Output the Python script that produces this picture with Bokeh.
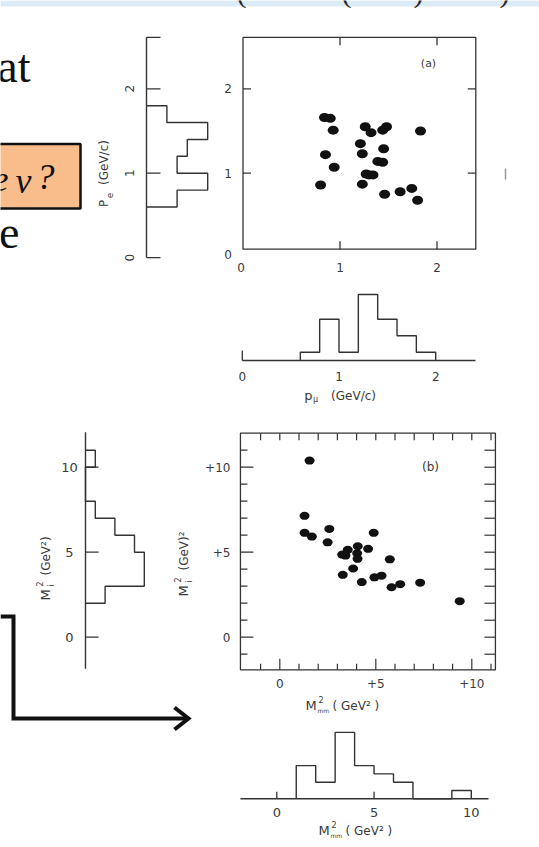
import math
from bokeh.plotting import figure
from bokeh.models import Range1d
from bokeh.core.properties import value
from bokeh.embed import file_html
from bokeh.resources import INLINE

W, H = 539, 847

# ---------------- data ----------------
# (a) e-mu events: muon momentum vs electron momentum (GeV/c)
p_mu = [0.84, 0.90, 0.93, 0.85, 0.94, 0.80, 1.26, 1.32, 1.44, 1.48, 1.21, 1.23,
        1.45, 1.39, 1.44, 1.27, 1.34, 1.23, 1.46, 1.62, 1.74, 1.80, 1.83, 1.30]
p_e = [1.66, 1.65, 1.51, 1.22, 1.07, 0.86, 1.55, 1.48, 1.51, 1.55, 1.35, 1.23,
       1.29, 1.14, 1.13, 0.99, 0.98, 0.87, 0.75, 0.78, 0.82, 0.68, 1.50, 0.98]
pe_edges = [0.6, 0.8, 1.0, 1.2, 1.4, 1.6, 1.8]
pe_counts = [3, 6, 3, 4, 6, 2]
pmu_edges = [0.6, 0.8, 1.0, 1.2, 1.4, 1.6, 1.8, 2.0]
pmu_counts = [1, 5, 1, 8, 5, 3, 1]
a_ticks = [0, 1, 2]
a_tick_labels = ["0", "1", "2"]

# (b) invariant mass squared vs missing mass squared (GeV^2)
mm2 = [1.55, 1.29, 1.29, 1.67, 2.58, 2.49, 4.89, 3.25, 3.54, 3.42, 4.06, 4.03,
       4.05, 4.60, 5.73, 3.82, 3.28, 4.27, 4.93, 5.30, 5.82, 6.27, 7.31, 9.37]
mi2 = [10.39, 7.14, 6.14, 5.92, 6.37, 5.58, 6.14, 4.86, 5.14, 4.80, 5.35, 4.94,
       4.61, 5.20, 4.58, 4.04, 3.67, 3.24, 3.52, 3.62, 2.94, 3.12, 3.21, 2.12]
mi2_edges = [2, 3, 4, 5, 6, 7, 8, 9, 10, 11]
mi2_counts = [2, 6, 6, 5, 3, 1, 0, 0, 1]
mm2_edges = [1, 2, 3, 4, 5, 6, 7, 8, 9, 10]
mm2_counts = [4, 2, 8, 4, 3, 2, 0, 0, 1]
b_ticks = [0, 5, 10]
b_minor = list(range(-1, 12))
b_scatter_labels = ["0", "+5", "+10"]
b_hist_labels = ["0", "5", "10"]

# ---------------- layout of the panels (pixels) ----------------
A_X0, A_XS = 242.5, 97.0      # p_mu = 0 position, px per GeV/c
A_Y0, A_YS = 257.1, 84.4      # p_e = 0 position, px per GeV/c
A_BOX = (0.0, 2.40, 0.10, 2.61)
PE_C0, PE_CS = 146.0, 10.2    # electron histogram: count axis
PMU_X0, PMU_XS = 241.8, 96.7  # muon histogram: momentum axis
PMU_C0, PMU_CS = 360.0, 8.25  # muon histogram: count axis
B_X0, B_XS = 279.3, 19.2
B_Y0, B_YS = 636.7, 17.0
B_BOX = (-2.05, 11.23, -1.92, 12.0)
MI_C0, MI_CS = 85.0, 9.8
MM_X0, MM_XS = 276.3, 19.45
MM_C0, MM_CS = 798.3, 8.3

INK = "#333333"
TXT = "#3a3a3a"
SANS = value("DejaVu Sans")
SERIF = value("Liberation Serif")


def xmap(px0, ppu):
    return Range1d(-px0 / ppu, (W - px0) / ppu)


def ymap(py0, ppu):
    return Range1d((py0 - H) / ppu, py0 / ppu)


p = figure(width=W, height=H, x_range=Range1d(0, W), y_range=Range1d(H, 0),
           x_axis_type=None, y_axis_type=None, output_backend="svg",
           toolbar_location=None, min_border=0)
p.outline_line_color = None
p.background_fill_color = "white"
p.border_fill_color = "white"

p.extra_x_ranges = {
    "ax": xmap(A_X0, A_XS), "pec": xmap(PE_C0, PE_CS), "pmux": xmap(PMU_X0, PMU_XS),
    "bx": xmap(B_X0, B_XS), "mic": xmap(MI_C0, MI_CS), "mmx": xmap(MM_X0, MM_XS),
}
p.extra_y_ranges = {
    "ay": ymap(A_Y0, A_YS), "pmuc": ymap(PMU_C0, PMU_CS),
    "by": ymap(B_Y0, B_YS), "mmc": ymap(MM_C0, MM_CS),
}


def steps_up(edges, counts):
    xs, ys = [edges[0]], [0]
    for i, c in enumerate(counts):
        xs += [edges[i], edges[i + 1]]
        ys += [c, c]
    xs.append(edges[-1])
    ys.append(0)
    return xs, ys


def label(x, y, t, size=12, align="center", angle=0.0, xr="default", yr="default",
          dx=0, dy=0, font=SANS, color=TXT, style="normal"):
    p.text(x=[x], y=[y], text=[t], x_range_name=xr, y_range_name=yr,
           text_font=font, text_font_size=f"{size}px", text_color=color,
           text_align=align, text_baseline="middle", angle=angle,
           x_offset=dx, y_offset=dy, text_font_style=style)


# ---------------- slide decorations ----------------
p.quad(left=0, right=W, top=0, bottom=6, fill_color="#dcebf8", line_color=None)
for px, ch in [(241, "("), (346, "("), (418, ")"), (504, ")")]:
    label(px, -9, ch, size=30, font=SERIF, color="#222222")

label(30, 66, "at", size=46, align="right", font=SERIF, color="#111111")
label(19, 232, "e", size=46, align="right", font=SERIF, color="#111111")

p.quad(left=-6, right=80, top=143.5, bottom=208, fill_color="#f9bd8c",
       line_color="#111111", line_width=2.5)
label(8, 178, "e", size=36, align="right", font=SERIF, color="#111111", style="italic")
label(23, 180, "ν", size=36, font=SERIF, color="#111111", style="italic")
label(45, 176, "?", size=36, font=SERIF, color="#111111", style="italic")

p.line(x=[0, 13, 13, 187], y=[616, 616, 718, 718], line_color="#111111",
       line_width=4, line_join="miter")
p.line(x=[174, 188, 174], y=[707, 718, 729], line_color="#111111", line_width=4,
       line_join="miter")
p.segment(x0=[505], y0=[168], x1=[505], y1=[179], line_color="#999999", line_width=1.5)

# ---------------- panel (a): scatter ----------------
l, r, b, t = A_BOX
p.quad(left=l, right=r, bottom=b, top=t, fill_color=None, line_color=INK,
       line_width=1.3, x_range_name="ax", y_range_name="ay")
tk_y = 8 / A_YS
tk_x = 8 / A_XS
tx = [v for v in a_ticks if v > 0]
p.segment(x0=tx + tx, y0=[t] * 2 + [b] * 2, x1=tx + tx, y1=[t - tk_y] * 2 + [b + tk_y] * 2,
          line_color=INK, line_width=1.3, x_range_name="ax", y_range_name="ay")
p.segment(x0=[l] * 2 + [r] * 2, y0=tx + tx, x1=[l + tk_x] * 2 + [r - tk_x] * 2, y1=tx + tx,
          line_color=INK, line_width=1.3, x_range_name="ax", y_range_name="ay")
p.ellipse(x=p_mu, y=p_e, width=11, height=9, width_units="screen", height_units="screen",
          fill_color="#111111", line_color=None, x_range_name="ax", y_range_name="ay")
for v, s in zip(a_ticks, a_tick_labels):
    label(v, b, s, xr="ax", yr="ay", dy=18, dx=-2 if v == 0 else 0)
    label(l, v, s, xr="ax", yr="ay", dx=-15, dy=-3 if v == 0 else 0)
label(428, 63, "(a)", size=11)

# electron momentum histogram (counts to the right)
ys_, xs_ = steps_up(pe_edges, pe_counts)
p.line(x=xs_, y=ys_, line_color=INK, line_width=1.4, x_range_name="pec", y_range_name="ay")
pe_top = 2.61
p.segment(x0=[0], y0=[0], x1=[0], y1=[pe_top], line_color=INK, line_width=1.4,
          x_range_name="pec", y_range_name="ay")
stub = 14 / PE_CS
stubs_y = a_ticks + [pe_top]
p.segment(x0=[0] * 4, y0=stubs_y, x1=[stub] * 4, y1=stubs_y, line_color=INK,
          line_width=1.3, x_range_name="pec", y_range_name="ay")
for v, s in zip(a_ticks, a_tick_labels):
    label(0, v, s, xr="pec", yr="ay", dx=-17, angle=math.pi / 2)
label(103, 203, "P", size=12, angle=math.pi / 2)
label(109, 195, "e", size=9, angle=math.pi / 2)
label(103, 162, "(GeV/c)", size=12, angle=math.pi / 2)

# muon momentum histogram (counts upward)
xs_, ys_ = steps_up(pmu_edges, pmu_counts)
p.line(x=xs_, y=ys_, line_color=INK, line_width=1.4, x_range_name="pmux", y_range_name="pmuc")
p.segment(x0=[0], y0=[0], x1=[(475 - PMU_X0) / PMU_XS], y1=[0], line_color=INK,
          line_width=1.4, x_range_name="pmux", y_range_name="pmuc")
p.segment(x0=[0], y0=[0], x1=[0], y1=[10 / PMU_CS], line_color=INK, line_width=1.3,
          x_range_name="pmux", y_range_name="pmuc")
for v, s in zip(a_ticks, a_tick_labels):
    label(v, 0, s, xr="pmux", yr="pmuc", dy=16)
label(308, 395, "p", size=13)
label(315, 399, "μ", size=8)
label(353, 395, "(GeV/c)", size=12)

# ---------------- panel (b): scatter ----------------
l, r, b, t = B_BOX
p.quad(left=l, right=r, bottom=b, top=t, fill_color=None, line_color=INK,
       line_width=1.3, x_range_name="bx", y_range_name="by")
for v in b_minor:
    big = v in b_ticks
    ly = (11 if big else 6) / B_YS
    lx = (13 if big else 7) / B_XS
    # ticks on top and bottom edges
    p.segment(x0=[v, v], y0=[t, b], x1=[v, v], y1=[t - 7 / B_YS, b + ly],
              line_color=INK, line_width=1.2, x_range_name="bx", y_range_name="by")
    # ticks on left and right edges
    p.segment(x0=[l, r], y0=[v, v], x1=[l + lx, r - 11 / B_XS], y1=[v, v],
              line_color=INK, line_width=1.2, x_range_name="bx", y_range_name="by")
p.ellipse(x=mm2, y=mi2, width=10, height=8, width_units="screen", height_units="screen",
          fill_color="#111111", line_color=None, x_range_name="bx", y_range_name="by")
for v, s in zip(b_ticks, b_scatter_labels):
    label(v, b, s, xr="bx", yr="by", dy=14)
    label(l, v, s, xr="bx", yr="by", dx=-10, align="right")
label(430, 466, "(b)", size=12)
label(305, 705, "M", size=13, align="left")
label(318, 699, "2", size=8, align="left")
label(317, 710, "mm", size=6, align="left")
label(332, 705, "( GeV² )", size=12, align="left")
label(183, 596, "M", size=13, align="left", angle=math.pi / 2)
label(177, 582, "2", size=8, align="left", angle=math.pi / 2)
label(189, 582, "i", size=8, align="left", angle=math.pi / 2)
label(183, 570, "(GeV)²", size=12, align="left", angle=math.pi / 2)

# invariant mass histogram (counts to the right)
ys_, xs_ = steps_up(mi2_edges, mi2_counts)
p.line(x=xs_, y=ys_, line_color=INK, line_width=1.4, x_range_name="mic", y_range_name="by")
p.segment(x0=[0], y0=[(B_Y0 - 668.3) / B_YS], x1=[0], y1=[(B_Y0 - 431.7) / B_YS],
          line_color=INK, line_width=1.4, x_range_name="mic", y_range_name="by")
p.segment(x0=[0] * 3, y0=b_ticks, x1=[13 / MI_CS] * 3, y1=b_ticks, line_color=INK,
          line_width=1.3, x_range_name="mic", y_range_name="by")
for v, s in zip(b_ticks, b_hist_labels):
    label(0, v, s, xr="mic", yr="by", dx=-16, size=13)
label(45, 600, "M", size=13, align="left", angle=math.pi / 2)
label(39, 586, "2", size=8, align="left", angle=math.pi / 2)
label(51, 586, "i", size=8, align="left", angle=math.pi / 2)
label(45, 575, "(GeV²)", size=12, align="left", angle=math.pi / 2)

# missing mass histogram (counts upward)
xs_, ys_ = steps_up(mm2_edges, mm2_counts)
p.line(x=xs_, y=ys_, line_color=INK, line_width=1.4, x_range_name="mmx", y_range_name="mmc")
p.segment(x0=[(240 - MM_X0) / MM_XS], y0=[0], x1=[(488 - MM_X0) / MM_XS], y1=[0],
          line_color=INK, line_width=1.4, x_range_name="mmx", y_range_name="mmc")
p.segment(x0=b_ticks[:2], y0=[0, 0], x1=b_ticks[:2], y1=[7 / MM_CS] * 2, line_color=INK,
          line_width=1.3, x_range_name="mmx", y_range_name="mmc")
for v, s in zip(b_ticks, b_hist_labels):
    label(v, 0, s, xr="mmx", yr="mmc", dy=14, size=13)
label(318, 830, "M", size=13, align="left")
label(331, 824, "2", size=8, align="left")
label(330, 835, "mm", size=6, align="left")
label(345, 830, "( GeV² )", size=12, align="left")

open("out.html", "w").write(file_html(p, INLINE))
